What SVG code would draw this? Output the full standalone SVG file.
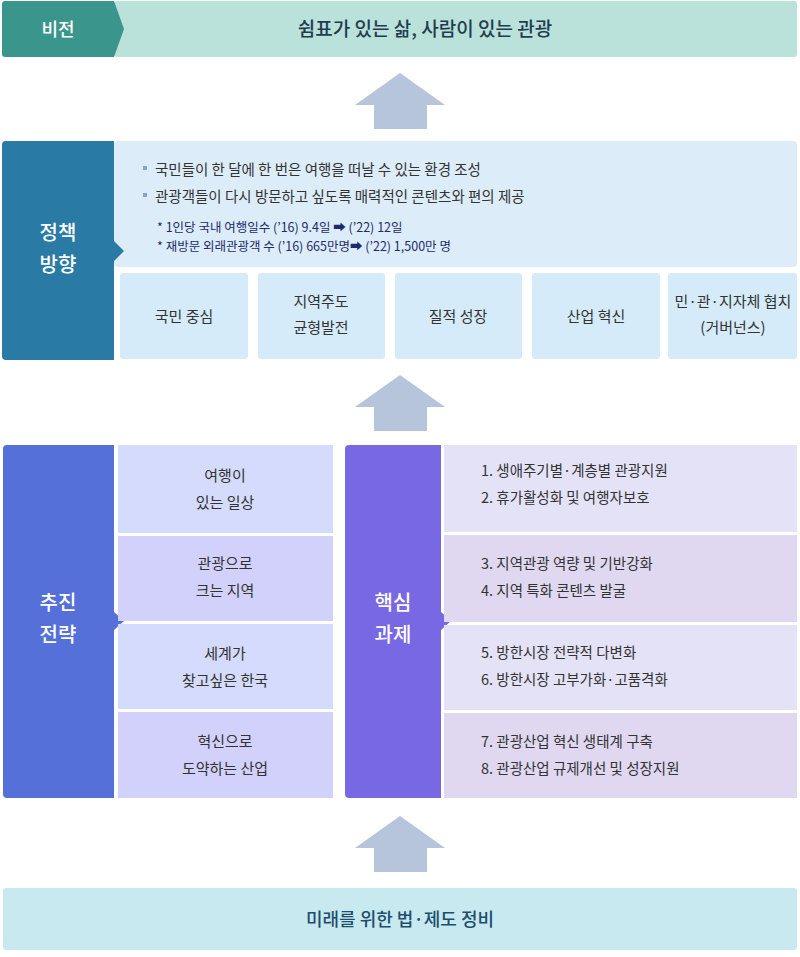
<svg xmlns="http://www.w3.org/2000/svg" width="800" height="957" viewBox="0 0 800 957">
<style>
text{font-family:"Noto Sans CJK KR","Noto Sans",sans-serif;}
.w{fill:#fff;font-size:20px;font-weight:500;text-anchor:middle}
.c{fill:#333;font-size:15px;text-anchor:middle}
.l{fill:#333;font-size:14.5px}
.s{fill:#1d2a6b;font-size:12.5px}
.arr{fill:#b6c4dc}
</style>
<defs>
<path id="up" d="M45 0 L90 32 L72 32 L72 56 L19 56 L19 32 L0 32 Z"/>
</defs>
<rect width="800" height="957" fill="#fff"/>
<g id="vision">
<rect x="114" y="1" width="683" height="56" rx="3" fill="#bae1da"/>
<path d="M2 4 a3 3 0 0 1 3 -3 H114 L124 29 L114 57 H5 a3 3 0 0 1 -3 -3 Z" fill="#3a968c"/>
<text x="58" y="36" class="w" style="font-size:18px">비전</text>
<text x="425" y="36" fill="#1f3d4f" font-size="19" font-weight="500" text-anchor="middle">쉼표가 있는 삶, 사람이 있는 관광</text>
</g>
<g id="connectors">
<use href="#up" x="355" y="73" class="arr"/>
<use href="#up" x="355" y="375" class="arr"/>
<use href="#up" x="355" y="816" class="arr"/>
</g>
<g id="policy">
<rect x="114" y="141" width="683" height="126" rx="4" fill="#dcedf9"/>
<path d="M2 145 a4 4 0 0 1 4 -4 H114 V241 L124 251 L114 261 V360 H6 a4 4 0 0 1 -4 -4 Z" fill="#2a7aa6"/>
<text x="58" y="240" class="w">정책</text>
<text x="58" y="272" class="w">방향</text>
<rect x="143" y="166" width="4" height="4" fill="#7fa8c6"/>
<text x="155" y="175" class="l">국민들이 한 달에 한 번은 여행을 떠날 수 있는 환경 조성</text>
<rect x="143" y="193" width="4" height="4" fill="#7fa8c6"/>
<text x="155" y="202" class="l">관광객들이 다시 방문하고 싶도록 매력적인 콘텐츠와 편의 제공</text>
<text x="157" y="232" class="s">* 1인당 국내 여행일수  (’16) 9.4일 ➡ (’22) 12일</text>
<text x="157" y="251" class="s">* 재방문 외래관광객 수  (’16) 665만명➡ (’22) 1,500만 명</text>
</g>
<g id="p1"><rect x="120" y="273" width="128" height="86" rx="3" fill="#d5ebfa"/><text x="184" y="322" class="c">국민 중심</text></g>
<g id="p2"><rect x="258" y="273" width="127" height="86" rx="3" fill="#d5ebfa"/><text x="321" y="307" class="c">지역주도</text><text x="321" y="333" class="c">균형발전</text></g>
<g id="p3"><rect x="395" y="273" width="127" height="86" rx="3" fill="#d5ebfa"/><text x="458" y="322" class="c">질적 성장</text></g>
<g id="p4"><rect x="532" y="273" width="128" height="86" rx="3" fill="#d5ebfa"/><text x="596" y="322" class="c">산업 혁신</text></g>
<g id="p5"><rect x="668" y="273" width="129" height="86" rx="3" fill="#d5ebfa"/><text x="733" y="307" class="c">민·관·지자체 협치</text><text x="733" y="333" class="c">(거버넌스)</text></g>
<g id="strategy">
<path d="M3 449 a4 4 0 0 1 4 -4 H114 V612 L124 621 L114 630 V798 H7 a4 4 0 0 1 -4 -4 Z" fill="#5571d9"/>
<text x="58" y="610" class="w">추진</text>
<text x="58" y="642" class="w">전략</text>
</g>
<g id="s1"><rect x="118" y="445" width="215" height="88" fill="#d4dbfc"/><text x="225" y="481" class="c">여행이</text><text x="225" y="508" class="c">있는 일상</text></g>
<g id="s2"><rect x="118" y="536" width="215" height="85" fill="#d1d1fb"/><text x="225" y="569" class="c">관광으로</text><text x="225" y="596" class="c">크는 지역</text></g>
<g id="s3"><rect x="118" y="624" width="215" height="85" fill="#d4dbfc"/><text x="225" y="659" class="c">세계가</text><text x="225" y="686" class="c">찾고싶은 한국</text></g>
<g id="s4"><rect x="118" y="712" width="215" height="86" fill="#d1d1fb"/><text x="225" y="747" class="c">혁신으로</text><text x="225" y="774" class="c">도약하는 산업</text></g>
<g id="tasks">
<path d="M345 449 a4 4 0 0 1 4 -4 H441 V612 L451 621 L441 630 V798 H349 a4 4 0 0 1 -4 -4 Z" fill="#7968e3"/>
<text x="393" y="610" class="w">핵심</text>
<text x="393" y="642" class="w">과제</text>
</g>
<g id="t1"><rect x="444" y="445" width="353" height="87" fill="#e4e2f7"/><text x="481" y="476" class="l">1. 생애주기별·계층별 관광지원</text><text x="481" y="503" class="l">2. 휴가활성화 및 여행자보호</text></g>
<g id="t2"><rect x="444" y="535" width="353" height="87" fill="#dfd8f0"/><text x="481" y="569" class="l">3. 지역관광 역량 및 기반강화</text><text x="481" y="596" class="l">4. 지역 특화 콘텐츠 발굴</text></g>
<g id="t3"><rect x="444" y="625" width="353" height="85" fill="#e4e2f7"/><text x="481" y="658" class="l">5. 방한시장 전략적 다변화</text><text x="481" y="685" class="l">6. 방한시장 고부가화·고품격화</text></g>
<g id="t4"><rect x="444" y="713" width="353" height="85" fill="#dfd8f0"/><text x="481" y="747" class="l">7. 관광산업 혁신 생태계 구축</text><text x="481" y="774" class="l">8. 관광산업 규제개선 및 성장지원</text></g>
<g id="law">
<rect x="3" y="888" width="794" height="62" rx="3" fill="#c8e9ef"/>
<text x="400" y="926" fill="#1d4e6e" font-size="18" font-weight="500" text-anchor="middle">미래를 위한 법·제도 정비</text>
</g>
</svg>
